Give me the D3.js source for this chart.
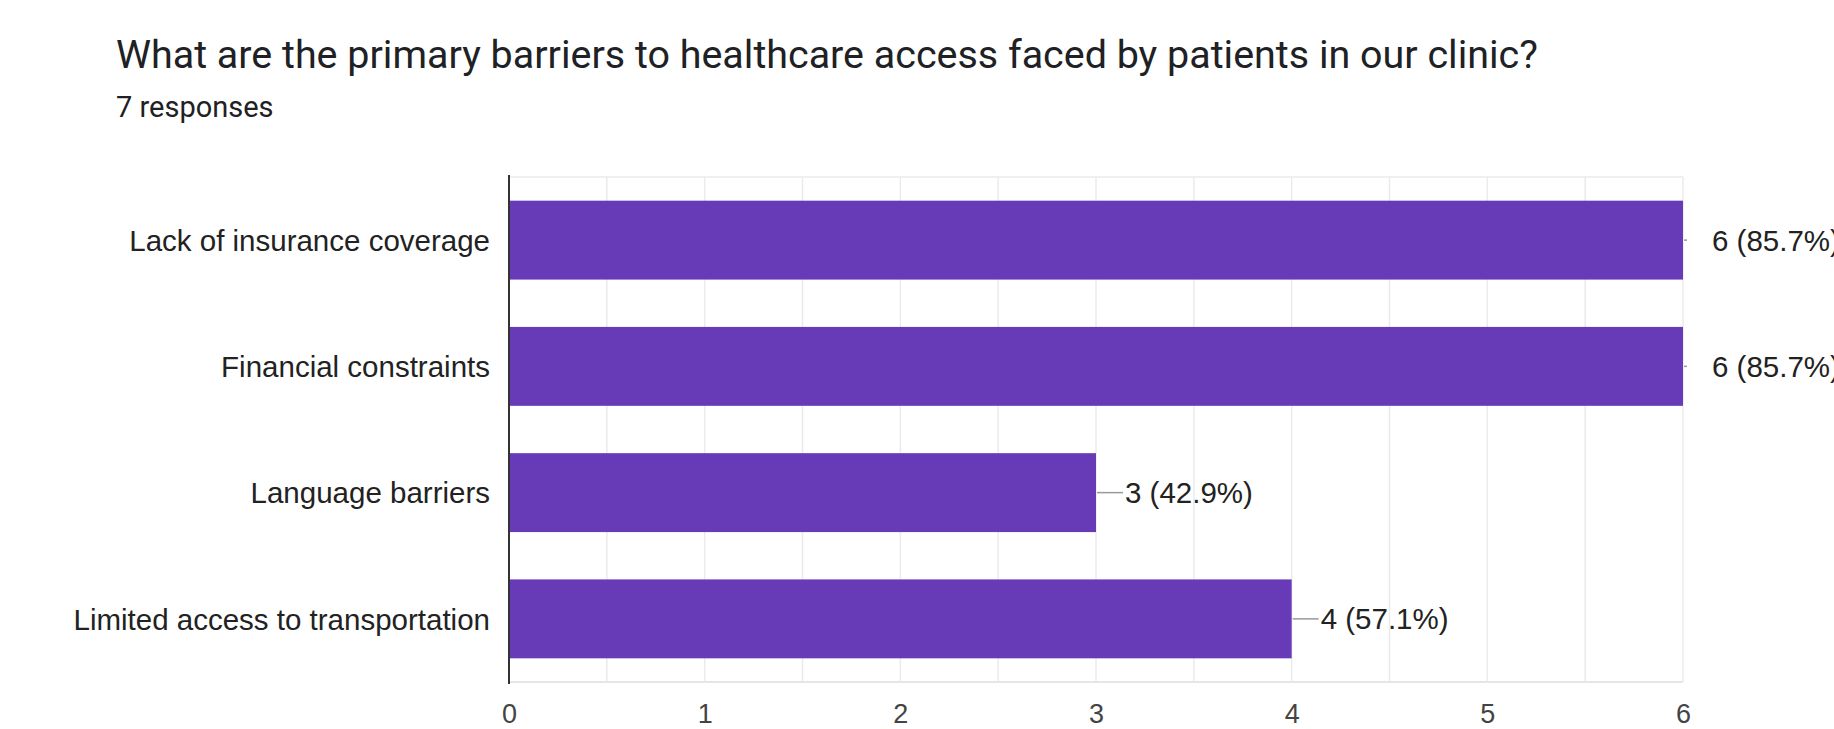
<!DOCTYPE html>
<html>
<head>
<meta charset="utf-8">
<script src="https://cdn.jsdelivr.net/npm/d3@7"></script>
<style>
  body { margin: 0; background: #fff; }
  svg { display: block; }
</style>
</head>
<body>
<div id="chart"></div>
<script>
var title = "What are the primary barriers to healthcare access faced by patients in our clinic?";
var subtitle = "7 responses";
var categories = ["Lack of insurance coverage", "Financial constraints", "Language barriers", "Limited access to transportation"];
var counts = [6, 6, 3, 4];
var percents = ["85.7%", "85.7%", "42.9%", "57.1%"];
var xTicks = [0, 1, 2, 3, 4, 5, 6];

var W = 1834, H = 729;
var margin = { top: 177, right: 151, bottom: 47, left: 509 };
var innerW = W - margin.left - margin.right;
var innerH = H - margin.top - margin.bottom;

var svg = d3.select("#chart").append("svg")
    .attr("width", W)
    .attr("height", H);

var t = svg.append("text")
    .attr("x", 116)
    .attr("y", 68)
    .attr("font-family", "Roboto, sans-serif")
    .attr("font-size", 37)
    .attr("fill", "#202124")
    .text(title);
// squeeze or stretch the font so the title spans the same width as the picture
var tw = t.node().getComputedTextLength();
t.attr("font-size", 37 * 1422 / tw);

svg.append("text")
    .attr("x", 116)
    .attr("y", 117)
    .attr("font-family", "Roboto, sans-serif")
    .attr("font-size", 29)
    .attr("fill", "#202124")
    .text(subtitle);

var g = svg.append("g")
    .attr("transform", "translate(" + margin.left + "," + margin.top + ")");

var x = d3.scaleLinear().domain([0, 6]).range([0, innerW]);
var y = d3.scaleBand().domain(categories).range([0, innerH])
    .paddingInner(0.375).paddingOuter(0.1875);

// minor + major grid lines
var gridVals = d3.range(0, 6.01, 0.5);
g.selectAll(".grid").data(gridVals).enter().append("line")
    .attr("class", "grid")
    .attr("x1", function (d) { return x(d); })
    .attr("x2", function (d) { return x(d); })
    .attr("y1", 0)
    .attr("y2", innerH)
    .attr("stroke", "#ebebeb")
    .attr("stroke-width", 1.5);

g.append("line")
    .attr("x1", 0).attr("x2", innerW)
    .attr("y1", 0).attr("y2", 0)
    .attr("stroke", "#ebebeb").attr("stroke-width", 1.5);
g.append("line")
    .attr("x1", 0).attr("x2", innerW)
    .attr("y1", innerH).attr("y2", innerH)
    .attr("stroke", "#e6e6e6").attr("stroke-width", 2);

g.selectAll(".bar").data(categories).enter().append("rect")
    .attr("class", "bar")
    .attr("x", 0)
    .attr("y", function (d) { return y(d); })
    .attr("width", function (d, i) { return x(counts[i]); })
    .attr("height", y.bandwidth())
    .attr("fill", "#673ab7");

// stems from bar end to the value label
g.selectAll(".stem").data(categories).enter().append("line")
    .attr("class", "stem")
    .attr("x1", function (d, i) { return x(counts[i]) + 1; })
    .attr("x2", function (d, i) { return counts[i] === 6 ? x(counts[i]) + 4 : x(counts[i]) + 27; })
    .attr("y1", function (d) { return y(d) + y.bandwidth() / 2; })
    .attr("y2", function (d) { return y(d) + y.bandwidth() / 2; })
    .attr("stroke", "#999")
    .attr("stroke-width", 1.5);

g.selectAll(".val").data(categories).enter().append("text")
    .attr("class", "val")
    .attr("x", function (d, i) { return x(counts[i]) + 29; })
    .attr("y", function (d) { return y(d) + y.bandwidth() / 2; })
    .attr("dy", "0.36em")
    .attr("font-family", "'Liberation Sans', Arial, sans-serif")
    .attr("font-size", 29.5)
    .attr("fill", "#222")
    .text(function (d, i) { return counts[i] + " (" + percents[i] + ")"; });

// category axis
var yAxis = g.append("g").call(d3.axisLeft(y).tickSize(0).tickPadding(19));
yAxis.select(".domain").remove();
yAxis.selectAll("text")
    .attr("font-family", "'Liberation Sans', Arial, sans-serif")
    .attr("font-size", 29.5)
    .attr("fill", "#222")
    .attr("dy", "0.36em");

g.append("line")
    .attr("x1", 0).attr("x2", 0)
    .attr("y1", -2).attr("y2", innerH + 2)
    .attr("stroke", "#333")
    .attr("stroke-width", 2);

// value axis
var xAxis = g.append("g")
    .attr("transform", "translate(0," + innerH + ")")
    .call(d3.axisBottom(x).tickValues(xTicks).tickFormat(d3.format("d")).tickSize(0).tickPadding(22));
xAxis.select(".domain").remove();
xAxis.selectAll("text")
    .attr("font-family", "'Liberation Sans', Arial, sans-serif")
    .attr("font-size", 27)
    .attr("fill", "#444")
    .attr("dy", "0.71em");
</script>
</body>
</html>
